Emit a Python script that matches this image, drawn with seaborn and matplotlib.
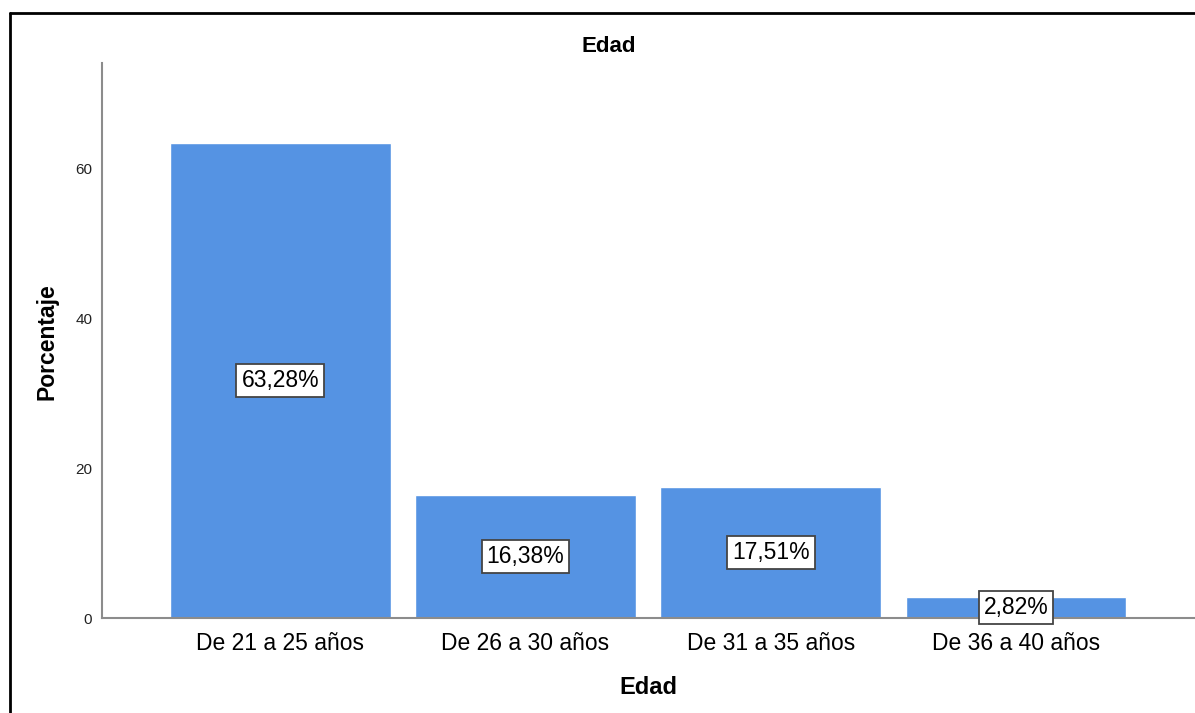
import pandas as pd
import matplotlib
matplotlib.use("Agg")
import matplotlib.pyplot as plt
from matplotlib.lines import Line2D
import seaborn as sns

categorias = ['De 21 a 25 años', 'De 26 a 30 años', 'De 31 a 35 años', 'De 36 a 40 años']
porcentajes = [63.28, 16.38, 17.51, 2.82]
etiquetas = ['63,28%', '16,38%', '17,51%', '2,82%']
y_ticks = [0, 20, 40, 60]

df = pd.DataFrame({'Edad': categorias, 'Porcentaje': porcentajes})

sns.set_style('white')
plt.rcParams['font.family'] = ['Liberation Sans', 'DejaVu Sans']
plt.rcParams['text.color'] = 'black'

fig = plt.figure(figsize=(11.95, 7.13), dpi=100)
ax = fig.add_axes([102 / 1195, 95 / 713, 1 - 102 / 1195, (618 - 63) / 713])

sns.barplot(data=df, x='Edad', y='Porcentaje', color='#5593E3', width=0.9,
            saturation=1, ax=ax)

ax.set_xlim(-0.727, 3.73)
ax.set_ylim(0, 74)
ax.set_yticks(y_ticks)
ax.set_yticklabels([str(t) for t in y_ticks], fontsize=11, color='#222222')
ax.tick_params(axis='x', labelsize=16.5, length=0, pad=10, labelcolor='black')
ax.tick_params(axis='y', length=0, pad=7)
ax.set_xlabel('')
ax.set_ylabel('')

for side in ['top', 'right']:
    ax.spines[side].set_visible(False)
for side in ['left', 'bottom']:
    ax.spines[side].set_color('#8c8c8c')
    ax.spines[side].set_linewidth(1.5)

# etiquetas dentro de las barras
for i, (v, lab) in enumerate(zip(porcentajes, etiquetas)):
    ax.text(i, v / 2, lab, ha='center', va='center', fontsize=16.5, color='black',
            bbox=dict(boxstyle='square,pad=0.22', facecolor='white',
                      edgecolor='#444444', linewidth=1.3))

fig.text(609 / 1195, 1 - 47 / 713, 'Edad', ha='center', va='center',
         fontsize=16, fontweight='bold')
fig.text(648 / 1195, 1 - 687 / 713, 'Edad', ha='center', va='center',
         fontsize=17, fontweight='bold')
fig.text(47 / 1195, 1 - 342 / 713, 'Porcentaje', ha='center', va='center',
         rotation=90, fontsize=16.5, fontweight='bold')

# marco exterior
fig.add_artist(Line2D([10 / 1195, 10 / 1195], [0, 1 - 13 / 713], transform=fig.transFigure,
                      color='black', linewidth=2))
fig.add_artist(Line2D([10 / 1195, 1], [1 - 13 / 713, 1 - 13 / 713], transform=fig.transFigure,
                      color='black', linewidth=2))

fig.savefig('out.png', dpi=100)
